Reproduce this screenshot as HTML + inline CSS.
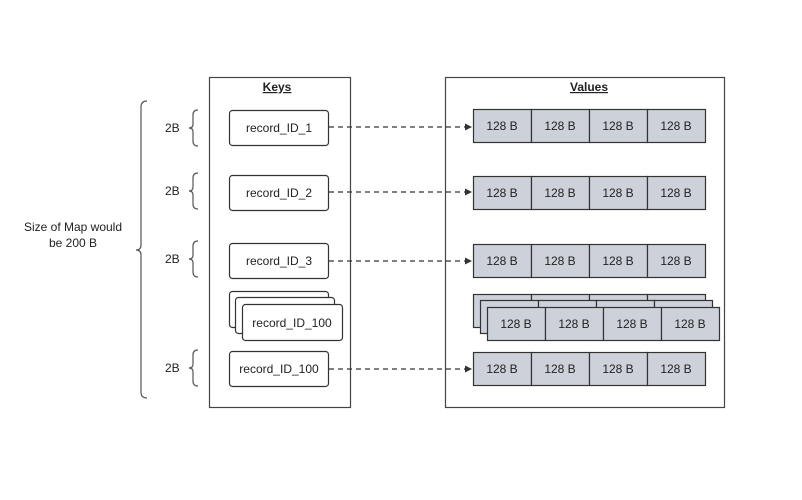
<!DOCTYPE html>
<html><head><style>body{margin:0;background:#fff}svg{display:block}text{font-family:"Liberation Sans",sans-serif;font-size:12px;fill:#222}</style></head>
<body>
<svg width="802" height="500" viewBox="0 0 802 500" xmlns="http://www.w3.org/2000/svg">
<defs><marker id="a" markerWidth="8" markerHeight="8" refX="7" refY="4" orient="auto" markerUnits="userSpaceOnUse"><path d="M0,0.5 L7,4 L0,7.5 Z" fill="#333"/></marker>
<g id="r"><rect x="0" y="0" width="58" height="33"/><rect x="58" y="0" width="58" height="33"/><rect x="116" y="0" width="58" height="33"/><rect x="174" y="0" width="58" height="33"/></g>
</defs>
<rect x="209.5" y="77.5" width="141" height="330" fill="#fff" stroke="#444" stroke-width="1.2"/>
<rect x="445.5" y="77.5" width="279" height="330" fill="#fff" stroke="#444" stroke-width="1.2"/>
<text x="277" y="91" text-anchor="middle" font-weight="bold" text-decoration="underline">Keys</text>
<text x="589" y="91" text-anchor="middle" font-weight="bold" text-decoration="underline">Values</text>
<g fill="#fff" stroke="#333" stroke-width="1.2">
<rect x="229.5" y="110.5" width="99" height="35" rx="3"/>
<rect x="229.5" y="175.5" width="99" height="35" rx="3"/>
<rect x="229.5" y="243.5" width="99" height="35" rx="3"/>
<rect x="229.5" y="291.5" width="99" height="36" rx="3"/>
<rect x="235.5" y="297.5" width="99" height="36" rx="3"/>
<rect x="242.5" y="304.5" width="100" height="36" rx="3"/>
<rect x="229.5" y="351.5" width="99" height="35" rx="3"/>
</g>
<g text-anchor="middle">
<text x="279" y="132">record_ID_1</text>
<text x="279" y="197">record_ID_2</text>
<text x="279" y="265">record_ID_3</text>
<text x="292" y="327">record_ID_100</text>
<text x="279" y="373">record_ID_100</text>
</g>
<g stroke="#333" stroke-width="1.2" stroke-dasharray="5,4" marker-end="url(#a)">
<line x1="329" y1="127" x2="472" y2="127"/>
<line x1="329" y1="192" x2="472" y2="192"/>
<line x1="329" y1="261" x2="472" y2="261"/>
<line x1="329" y1="369" x2="472" y2="369"/>
</g>
<g fill="#cdd1d9" stroke="#333" stroke-width="1.2">
<use href="#r" x="473.5" y="109.5"/>
<use href="#r" x="473.5" y="176.5"/>
<use href="#r" x="473.5" y="244.5"/>
<use href="#r" x="473.5" y="294.5"/>
<use href="#r" x="480.5" y="300.5"/>
<use href="#r" x="487.5" y="307.5"/>
<use href="#r" x="473.5" y="352.5"/>
</g>
<g text-anchor="middle">
<text x="502" y="130">128 B</text><text x="560" y="130">128 B</text><text x="618" y="130">128 B</text><text x="676" y="130">128 B</text>
<text x="502" y="197">128 B</text><text x="560" y="197">128 B</text><text x="618" y="197">128 B</text><text x="676" y="197">128 B</text>
<text x="502" y="265">128 B</text><text x="560" y="265">128 B</text><text x="618" y="265">128 B</text><text x="676" y="265">128 B</text>
<text x="516" y="328">128 B</text><text x="574" y="328">128 B</text><text x="632" y="328">128 B</text><text x="690" y="328">128 B</text>
<text x="502" y="373">128 B</text><text x="560" y="373">128 B</text><text x="618" y="373">128 B</text><text x="676" y="373">128 B</text>
</g>
<g fill="none" stroke="#555" stroke-width="1.2">
<path d="M198,110 Q193,110 193,115 L193,124 Q193,128 189,128 Q193,128 193,132 L193,141 Q193,146 198,146"/>
<path d="M198,173 Q193,173 193,178 L193,187 Q193,191 189,191 Q193,191 193,195 L193,204 Q193,209 198,209"/>
<path d="M198,241 Q193,241 193,246 L193,255 Q193,259 189,259 Q193,259 193,263 L193,272 Q193,277 198,277"/>
<path d="M198,350 Q193,350 193,355 L193,364 Q193,368 189,368 Q193,368 193,372 L193,381 Q193,386 198,386"/>
<path d="M147,101 Q141,101 141,107 L141,245 Q141,250 136,250 Q141,250 141,255 L141,392 Q141,398 147,398"/>
</g>
<text x="165" y="132">2B</text>
<text x="165" y="195">2B</text>
<text x="165" y="263">2B</text>
<text x="165" y="372">2B</text>
<text x="73" y="231" text-anchor="middle">Size of Map would</text>
<text x="73" y="247" text-anchor="middle">be 200 B</text>
</svg>
</body></html>
